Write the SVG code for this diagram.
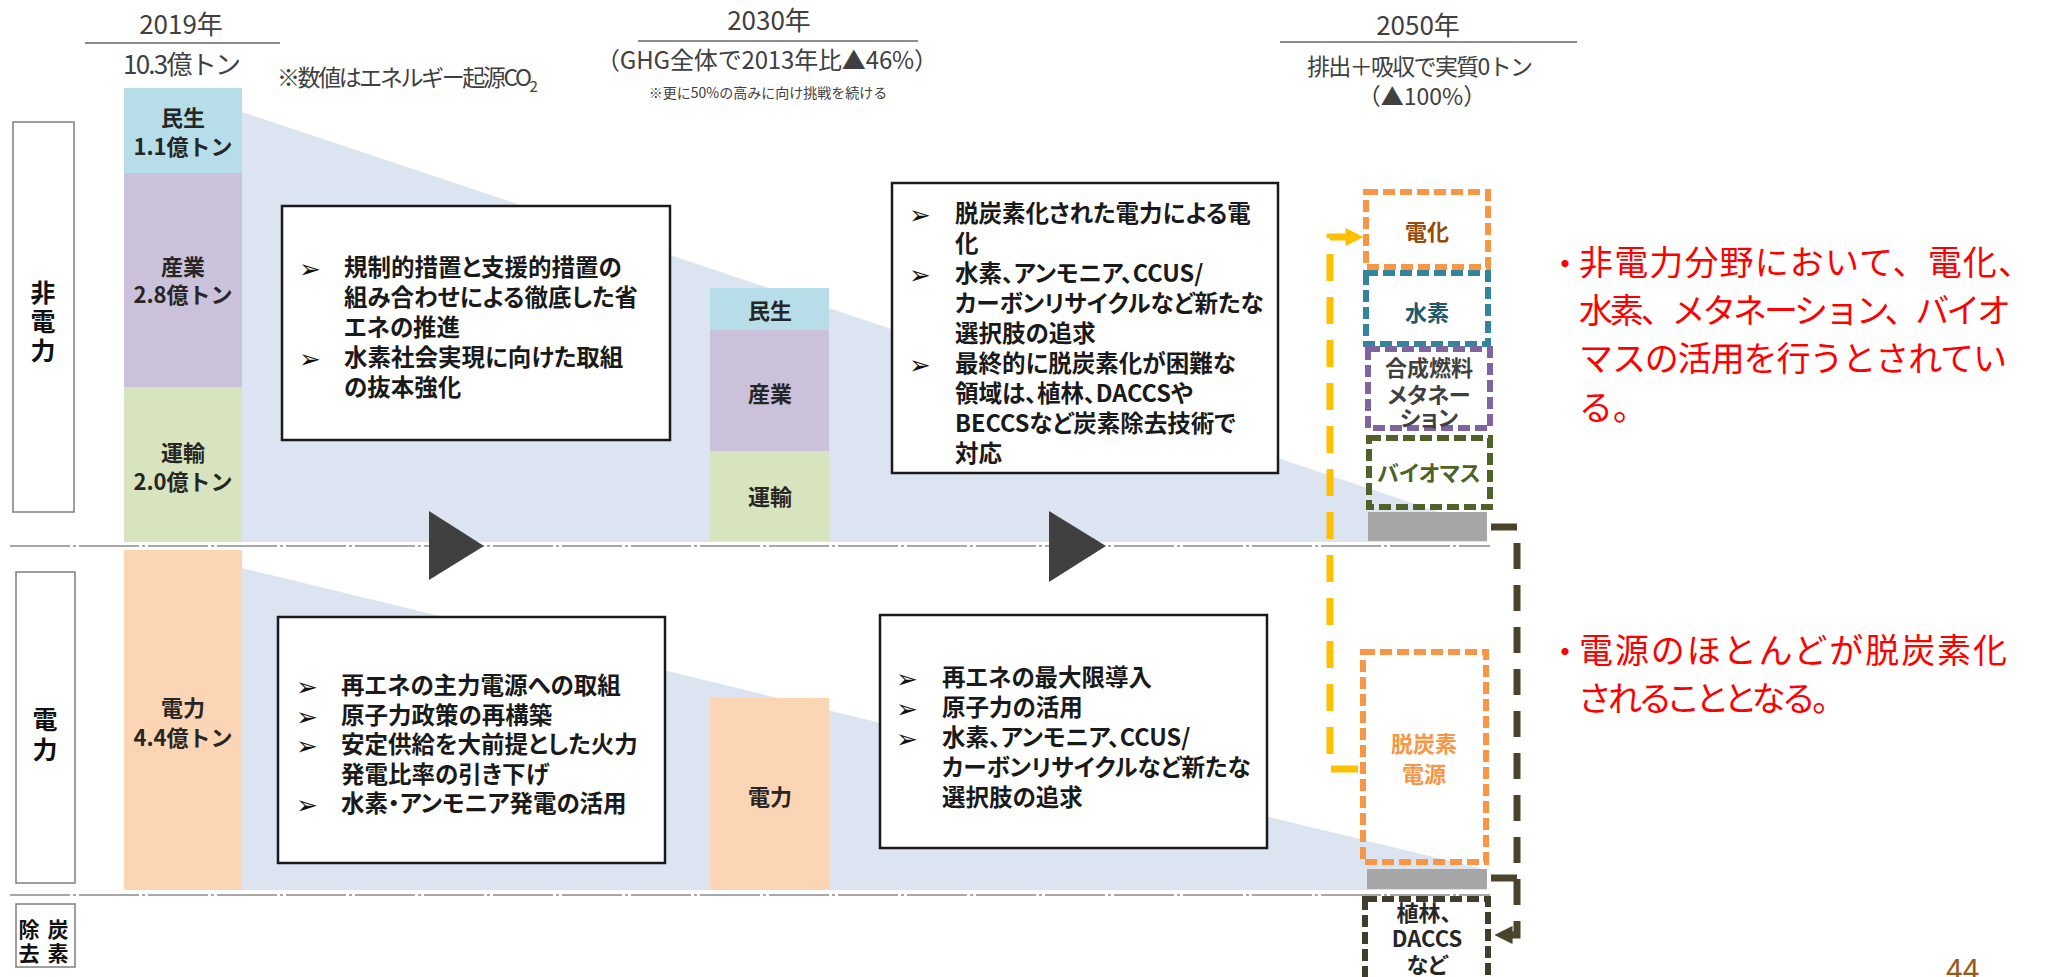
<svg xmlns="http://www.w3.org/2000/svg" width="2060" height="977" viewBox="0 0 2060 977">
<defs>
<style>
text{font-family:"Noto Sans CJK JP","Noto Sans CJK SC",sans-serif}
.hdr{font-size:26px;fill:#404040;text-anchor:middle}
.hline{stroke:#8c8c8c;stroke-width:2}
.lbl{font-size:22px;font-weight:700;fill:#262626;text-anchor:middle}
.side{fill:#fff;stroke:#7f7f7f;stroke-width:1.5}
.sidet{font-size:25px;font-weight:700;fill:#111;text-anchor:middle}
.box{fill:#fff;stroke:#1a1a1a;stroke-width:2.5}
.bt{font-size:23.5px;font-weight:700;fill:#1a1a1a;font-feature-settings:"palt"}
.bul{font-family:"DejaVu Sans",sans-serif;font-size:26px;fill:#111}
.div{stroke:#8c8c8c;stroke-width:1.6;stroke-dasharray:60 3 3 3}
.dbox{fill:none;stroke-width:6;stroke-dasharray:12 5}
.bt50{font-size:22px;font-weight:700;text-anchor:middle;font-feature-settings:"palt"}
.red{font-size:34px;fill:#ff0000}
.dot{font-size:28px;font-weight:700}
.tri{fill:#404040}
</style>
<marker id="ay" viewBox="0 0 10 10" refX="8" refY="5" markerWidth="2.6" markerHeight="2.6" orient="auto" markerUnits="strokeWidth"><path d="M0,0 L10,5 L0,10 z" fill="#ffc000"/></marker>
<marker id="ad" viewBox="0 0 10 10" refX="8" refY="5" markerWidth="2.6" markerHeight="2.6" orient="auto" markerUnits="strokeWidth"><path d="M0,0 L10,5 L0,10 z" fill="#4a452a"/></marker>
</defs>
<rect width="2060" height="977" fill="#fff"/>

<!-- wedges -->
<g id="wedges">
<polygon points="242,112 1487,528 1487,542 242,542" fill="#dbe4f0"/>
<polygon points="242,568 1487,870 1487,890 242,890" fill="#dbe4f0"/>
</g>

<!-- headers -->
<g id="header-2019">
<text class="hdr" x="181" y="34">2019年</text>
<line class="hline" x1="85" y1="43" x2="280" y2="43"/>
<text class="hdr" x="182" y="74" textLength="118">10.3億トン</text>
<text x="277" y="86" font-size="23" fill="#404040"><tspan textLength="255">※数値はエネルギー起源CO</tspan><tspan font-size="15" dy="6">2</tspan></text>
</g>
<g id="header-2030">
<text class="hdr" x="769" y="30">2030年</text>
<line class="hline" x1="638" y1="41" x2="918" y2="41"/>
<text x="767" y="69" font-size="24" fill="#404040" text-anchor="middle" textLength="342">（GHG全体で2013年比▲46%）</text>
<text x="768" y="98" font-size="14" fill="#404040" text-anchor="middle">※更に50%の高みに向け挑戦を続ける</text>
</g>
<g id="header-2050">
<text class="hdr" x="1418" y="35">2050年</text>
<line class="hline" x1="1280" y1="42" x2="1577" y2="42"/>
<text x="1420" y="75" font-size="23" fill="#404040" text-anchor="middle" textLength="226">排出＋吸収で実質0トン</text>
<text x="1422" y="105" font-size="23" fill="#404040" text-anchor="middle">（▲100%）</text>
</g>

<!-- side labels -->
<g id="label-nonpower">
<rect class="side" x="13" y="122" width="61" height="390"/>
<text class="sidet" x="43" y="302">非</text>
<text class="sidet" x="43" y="331">電</text>
<text class="sidet" x="43" y="360">力</text>
</g>
<g id="label-power">
<rect class="side" x="16" y="572" width="59" height="311"/>
<text class="sidet" x="45" y="729">電</text>
<text class="sidet" x="45" y="759">力</text>
</g>
<g id="label-removal">
<rect class="side" x="16" y="904" width="59" height="63"/>
<text x="29" y="937" font-size="21" font-weight="700" fill="#111" text-anchor="middle">除</text>
<text x="58" y="937" font-size="21" font-weight="700" fill="#111" text-anchor="middle">炭</text>
<text x="29" y="961" font-size="21" font-weight="700" fill="#111" text-anchor="middle">去</text>
<text x="58" y="961" font-size="21" font-weight="700" fill="#111" text-anchor="middle">素</text>
</g>

<!-- divider lines -->
<g id="dividers">
<line class="div" x1="10" y1="546" x2="1490" y2="546"/>
<line class="div" x1="10" y1="895" x2="1490" y2="895"/>
</g>

<!-- 2019 bars -->
<g id="bar-2019">
<rect x="124" y="88" width="118" height="85" fill="#b7dde8"/>
<rect x="124" y="173" width="118" height="214" fill="#ccc1da"/>
<rect x="124" y="387" width="118" height="155" fill="#d7e4bd"/>
<rect x="124" y="550" width="118" height="340" fill="#fcd5b5"/>
<text class="lbl" x="183" y="126">民生</text>
<text class="lbl" x="183" y="155">1.1億トン</text>
<text class="lbl" x="183" y="275">産業</text>
<text class="lbl" x="183" y="303">2.8億トン</text>
<text class="lbl" x="183" y="461">運輸</text>
<text class="lbl" x="183" y="490">2.0億トン</text>
<text class="lbl" x="183" y="716">電力</text>
<text class="lbl" x="183" y="746">4.4億トン</text>
</g>

<!-- 2030 bars -->
<g id="bar-2030">
<rect x="710" y="288" width="119" height="42" fill="#b7dde8"/>
<rect x="710" y="330" width="119" height="121" fill="#ccc1da"/>
<rect x="710" y="451" width="119" height="90" fill="#d7e4bd"/>
<rect x="710" y="698" width="119" height="192" fill="#fcd5b5"/>
<text class="lbl" x="770" y="319">民生</text>
<text class="lbl" x="770" y="402">産業</text>
<text class="lbl" x="770" y="505">運輸</text>
<text class="lbl" x="770" y="805">電力</text>
</g>

<!-- arrows (triangles) -->
<g id="triangles">
<polygon class="tri" points="429,511 484,546 429,580"/>
<polygon class="tri" points="1049,511 1106,546 1049,582"/>
</g>

<!-- text box 1 -->
<g id="box-nonpower-2030">
<rect class="box" x="282" y="206" width="388" height="234"/>
<text class="bul" x="299" y="278">➢</text>
<text class="bt" x="344" y="276">規制的措置と支援的措置の</text>
<text class="bt" x="344" y="306">組み合わせによる徹底した省</text>
<text class="bt" x="344" y="336">エネの推進</text>
<text class="bul" x="299" y="368">➢</text>
<text class="bt" x="344" y="366">水素社会実現に向けた取組</text>
<text class="bt" x="344" y="396">の抜本強化</text>
</g>

<!-- text box 2 -->
<g id="box-power-2030">
<rect class="box" x="278" y="617" width="387" height="246"/>
<text class="bul" x="296" y="696">➢</text>
<text class="bt" x="341" y="694">再エネの主力電源への取組</text>
<text class="bul" x="296" y="726">➢</text>
<text class="bt" x="341" y="724">原子力政策の再構築</text>
<text class="bul" x="296" y="755">➢</text>
<text class="bt" x="341" y="753">安定供給を大前提とした火力</text>
<text class="bt" x="341" y="783">発電比率の引き下げ</text>
<text class="bul" x="296" y="814">➢</text>
<text class="bt" x="341" y="812">水素・アンモニア発電の活用</text>
</g>

<!-- text box 3 -->
<g id="box-nonpower-2050">
<rect class="box" x="892" y="183" width="386" height="290"/>
<text class="bul" x="909" y="224">➢</text>
<text class="bt" x="955" y="222">脱炭素化された電力による電</text>
<text class="bt" x="955" y="252">化</text>
<text class="bul" x="909" y="284">➢</text>
<text class="bt" x="955" y="282">水素、アンモニア、CCUS/</text>
<text class="bt" x="955" y="312">カーボンリサイクルなど新たな</text>
<text class="bt" x="955" y="342">選択肢の追求</text>
<text class="bul" x="909" y="374">➢</text>
<text class="bt" x="955" y="372">最終的に脱炭素化が困難な</text>
<text class="bt" x="955" y="402">領域は、植林、DACCSや</text>
<text class="bt" x="955" y="432">BECCSなど炭素除去技術で</text>
<text class="bt" x="955" y="462">対応</text>
</g>

<!-- text box 4 -->
<g id="box-power-2050">
<rect class="box" x="880" y="615" width="387" height="233"/>
<text class="bul" x="896" y="688">➢</text>
<text class="bt" x="942" y="686">再エネの最大限導入</text>
<text class="bul" x="896" y="718">➢</text>
<text class="bt" x="942" y="716">原子力の活用</text>
<text class="bul" x="896" y="748">➢</text>
<text class="bt" x="942" y="746">水素、アンモニア、CCUS/</text>
<text class="bt" x="942" y="776">カーボンリサイクルなど新たな</text>
<text class="bt" x="942" y="806">選択肢の追求</text>
</g>

<!-- 2050 column -->
<g id="n-denka">
<rect class="dbox" x="1366" y="192" width="122" height="75" stroke="#f79646"/>
<text class="bt50" x="1427" y="240" fill="#984807">電化</text>
</g>
<g id="n-suiso">
<rect class="dbox" x="1366" y="273" width="122" height="71" stroke="#31859c"/>
<text class="bt50" x="1427" y="321" fill="#215968">水素</text>
</g>
<g id="n-gosei">
<rect class="dbox" x="1368" y="349" width="122" height="79" stroke="#8064a2"/>
<text class="bt50" x="1429" y="376" fill="#404040" font-size="20">合成燃料</text>
<text class="bt50" x="1429" y="403" fill="#404040" font-size="20">メタネー</text>
<text class="bt50" x="1429" y="426" fill="#404040" font-size="20">ション</text>
</g>
<g id="n-biomass">
<rect class="dbox" x="1369" y="438" width="121" height="69" stroke="#4f6228"/>
<text class="bt50" x="1429" y="481" fill="#4f6228">バイオマス</text>
</g>
<g id="n-gray1">
<rect x="1368" y="512" width="119" height="29" fill="#a6a6a6"/>
</g>
<g id="n-datsutanso">
<rect class="dbox" x="1363" y="652" width="123" height="210" stroke="#f79646"/>
<text class="bt50" x="1424" y="752" fill="#f79646" font-size="25">脱炭素</text>
<text class="bt50" x="1424" y="782" fill="#f79646" font-size="25">電源</text>
</g>
<g id="n-gray2">
<rect x="1367" y="869" width="120" height="20" fill="#a6a6a6"/>
</g>
<g id="n-shokurin">
<rect class="dbox" x="1365" y="899" width="123" height="95" stroke="#403d2a"/>
<text class="bt50" x="1424" y="921" fill="#262626">植林、</text>
<text class="bt50" x="1427" y="947" fill="#262626">DACCS</text>
<text class="bt50" x="1427" y="973" fill="#262626">など</text>
</g>

<!-- connectors -->
<g id="connectors" fill="none" stroke-width="7">
<path d="M1358,769 H1330 V237 H1360" stroke="#ffc000" stroke-dasharray="27 16" marker-end="url(#ay)"/>
<path d="M1491,527 H1517 V935 H1498" stroke="#4a452a" stroke-dasharray="26 16" marker-end="url(#ad)"/>
<path d="M1491,878 H1517" stroke="#4a452a"/>
</g>

<!-- red notes -->
<g id="note-nonpower">
<text class="red" y="275"><tspan class="dot" x="1551">・</tspan><tspan x="1579" textLength="453">非電力分野において、電化、</tspan></text>
<text class="red" x="1579" y="323" textLength="432">水素、メタネーション、バイオ</text>
<text class="red" x="1579" y="371" textLength="428">マスの活用を行うとされてい</text>
<text class="red" x="1579" y="420">る。</text>
</g>
<g id="note-power">
<text class="red" y="663"><tspan class="dot" x="1551">・</tspan><tspan x="1579" textLength="428">電源のほとんどが脱炭素化</tspan></text>
<text class="red" x="1579" y="711" textLength="250" style="font-feature-settings:'palt'">されることとなる。</text>
</g>

<text x="1946" y="981" font-size="30" fill="#9b5a1a" font-family="Liberation Sans, sans-serif">44</text>
</svg>
